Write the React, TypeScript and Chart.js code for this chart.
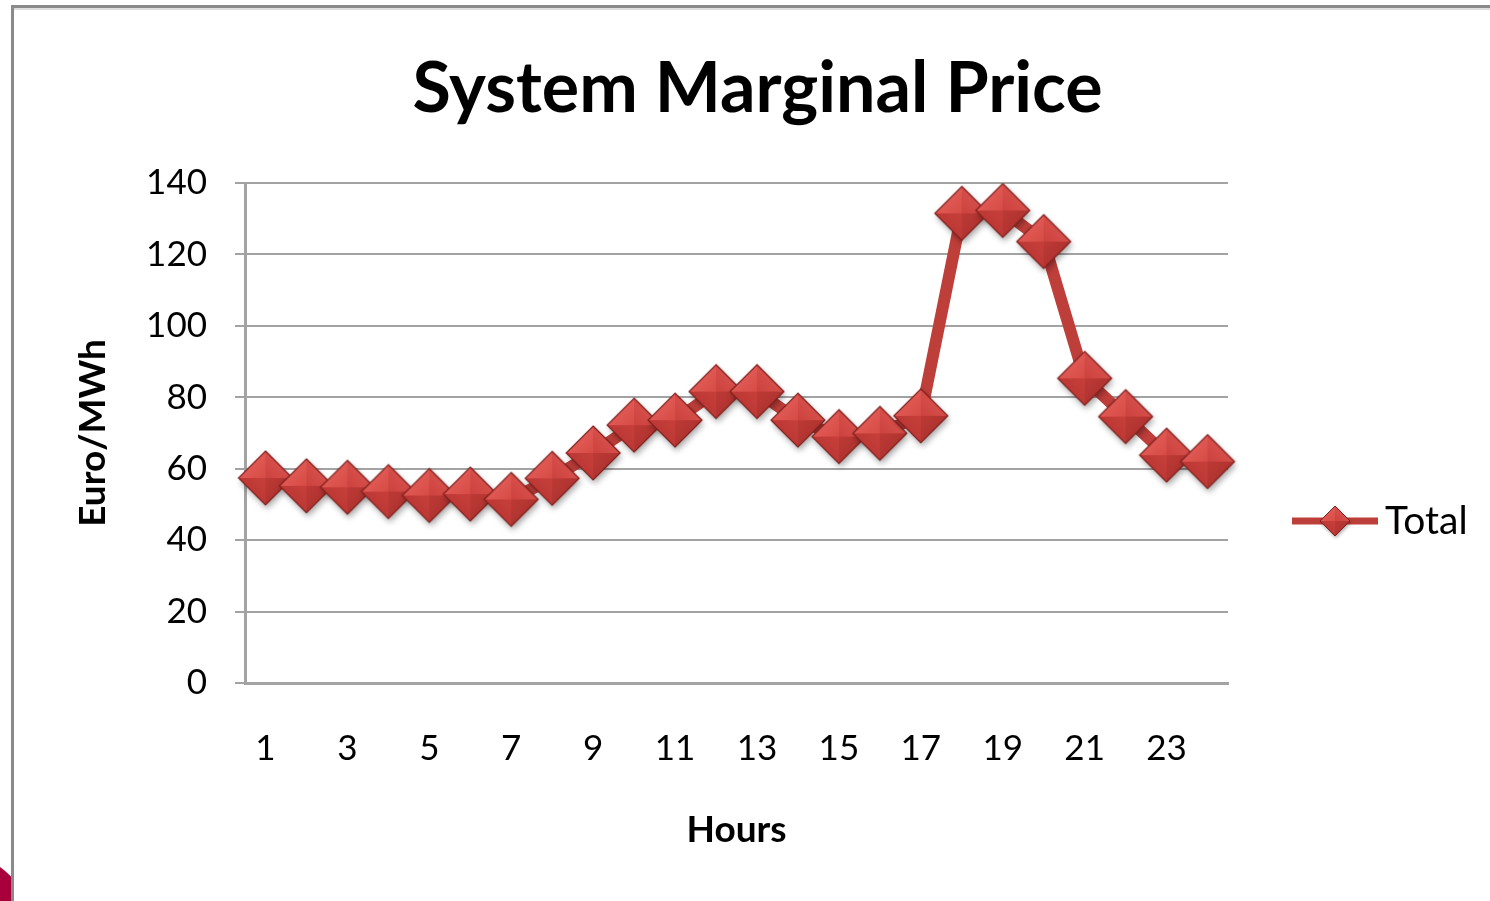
import React, { useEffect, useRef } from 'react';
import { Chart, registerables } from 'chart.js';

Chart.register(...registerables);

// ---- data ----
const hours: string[] = ['1', '2', '3', '4', '5', '6', '7', '8', '9', '10', '11', '12', '13', '14', '15', '16', '17', '18', '19', '20', '21', '22', '23', '24'];
const prices: number[] = [57.4, 55.2, 54.8, 53.6, 52.5, 52.9, 51.4, 57.3, 64.4, 72.2, 73.6, 81.6, 81.6, 73.6, 69.0, 69.9, 74.8, 131.5, 132.3, 123.6, 85.3, 74.6, 63.8, 62.0];
const yMin = 0;
const yMax = 140;
const yStep = 20;
const seriesName = 'Total';
const chartTitle = 'System Marginal Price';
const xAxisTitle = 'Hours';
const yAxisTitle = 'Euro/MWh';

// ---- style ----
const LINE_COLOR = 'rgb(190,62,58)';
const GRID_COLOR = '#a3a3a3';
const FONT = 'Lato';

function makeDiamond(r: number, outline: number): HTMLCanvasElement {
  const pad = Math.ceil(r * 0.35) + 4;
  const size = Math.ceil(2 * (r + pad));
  const cv = document.createElement('canvas');
  cv.width = size;
  cv.height = size;
  const ctx = cv.getContext('2d')!;
  const c = size / 2;
  const path = () => {
    ctx.beginPath();
    ctx.moveTo(c, c - r);
    ctx.lineTo(c + r, c);
    ctx.lineTo(c, c + r);
    ctx.lineTo(c - r, c);
    ctx.closePath();
  };
  ctx.save();
  ctx.shadowColor = 'rgba(0,0,0,0.35)';
  ctx.shadowBlur = r * 0.25;
  ctx.shadowOffsetX = r * 0.06;
  ctx.shadowOffsetY = r * 0.14;
  path();
  ctx.fillStyle = '#8e2623';
  ctx.fill();
  ctx.restore();
  const facet = (x1: number, y1: number, x2: number, y2: number, col: string | CanvasGradient) => {
    ctx.beginPath();
    ctx.moveTo(c, c);
    ctx.lineTo(x1, y1);
    ctx.lineTo(x2, y2);
    ctx.closePath();
    ctx.fillStyle = col;
    ctx.fill();
  };
  const gTL = ctx.createLinearGradient(c - r, c - r, c, c);
  gTL.addColorStop(0, '#ec6863');
  gTL.addColorStop(1, '#d64b46');
  const gTR = ctx.createLinearGradient(c + r, c - r, c, c);
  gTR.addColorStop(0, '#e05a55');
  gTR.addColorStop(1, '#cc423e');
  const gBR = ctx.createLinearGradient(c + r, c + r, c, c);
  gBR.addColorStop(0, '#a52d2a');
  gBR.addColorStop(1, '#bd3a36');
  const gBL = ctx.createLinearGradient(c - r, c + r, c, c);
  gBL.addColorStop(0, '#b3332f');
  gBL.addColorStop(1, '#c73f3b');
  facet(c - r, c, c, c - r, gTL);
  facet(c, c - r, c + r, c, gTR);
  facet(c + r, c, c, c + r, gBR);
  facet(c, c + r, c - r, c, gBL);
  path();
  ctx.strokeStyle = '#7d1f1c';
  ctx.lineWidth = outline;
  ctx.stroke();
  return cv;
}

export default function App() {
  const ref = useRef<HTMLCanvasElement>(null);

  useEffect(() => {
    const pointImg = makeDiamond(27, 1.2);
    const legendImg = makeDiamond(15, 1);

    const framePlugin = {
      id: 'frameAndLegend',
      beforeDraw(chart: any) {
        const ctx = chart.ctx as CanvasRenderingContext2D;
        const w = chart.width;
        const h = chart.height;
        ctx.save();
        ctx.fillStyle = '#ffffff';
        ctx.fillRect(0, 0, w, h);
        ctx.save();
        ctx.beginPath();
        ctx.rect(0, 0, 11, h);
        ctx.clip();
        ctx.fillStyle = '#a8003a';
        ctx.beginPath();
        ctx.arc(-45, 930, 77.4, 0, Math.PI * 2);
        ctx.fill();
        ctx.restore();
        ctx.fillStyle = '#dedede';
        ctx.fillRect(14, 8, w, 2);
        ctx.fillStyle = '#8a8a8a';
        ctx.fillRect(11, 5, w, 3);
        ctx.fillRect(11, 5, 3, h);
        ctx.restore();
      },
      afterDraw(chart: any) {
        const ctx = chart.ctx as CanvasRenderingContext2D;
        const area = chart.chartArea;
        const x0 = area.right + 64;
        const x1 = x0 + 86;
        const ly = 521;
        ctx.save();
        ctx.strokeStyle = LINE_COLOR;
        ctx.lineWidth = 7;
        ctx.beginPath();
        ctx.moveTo(x0, ly);
        ctx.lineTo(x1, ly);
        ctx.stroke();
        ctx.drawImage(legendImg, (x0 + x1) / 2 - legendImg.width / 2, ly - legendImg.height / 2);
        ctx.font = `39px ${FONT}`;
        ctx.fillStyle = '#000000';
        ctx.textBaseline = 'middle';
        ctx.textAlign = 'left';
        ctx.fillText(seriesName, x1 + 7, ly);
        ctx.restore();
      },
    };

    const chart = new Chart(ref.current!, {
      type: 'line',
      data: {
        labels: hours,
        datasets: [
          {
            label: seriesName,
            data: prices,
            borderColor: LINE_COLOR,
            backgroundColor: LINE_COLOR,
            borderWidth: 12,
            borderJoinStyle: 'round',
            borderCapStyle: 'round',
            tension: 0,
            pointStyle: pointImg as any,
            pointRadius: 27,
            fill: false,
          },
        ],
      },
      options: {
        animation: false,
        responsive: true,
        maintainAspectRatio: false,
        events: [],
        layout: { padding: { left: 25, right: 0, top: 0, bottom: 0 } },
        plugins: {
          legend: { display: false },
          tooltip: { enabled: false },
          title: {
            display: true,
            text: chartTitle,
            color: '#000000',
            font: { family: FONT, size: 70, weight: 'bold', lineHeight: 1.2 },
            padding: { top: 47, bottom: 52 },
          },
        },
        scales: {
          x: {
            type: 'category',
            offset: true,
            grid: { display: false, drawTicks: false },
            border: { display: true, color: GRID_COLOR, width: 3 },
            ticks: {
              autoSkip: false,
              maxRotation: 0,
              padding: 45,
              color: '#000000',
              font: { family: FONT, size: 35 },
              callback: (_v: any, i: number) => (i % 2 === 0 ? hours[i] : ''),
            },
            title: {
              display: true,
              text: xAxisTitle,
              color: '#000000',
              font: { family: FONT, size: 37, weight: 'bold', lineHeight: 1.2 },
              padding: { top: 0, bottom: 49 },
            },
            afterFit: (s: any) => {
              s.height = 218;
            },
          },
          y: {
            type: 'linear',
            position: 'left',
            min: yMin,
            max: yMax,
            grid: { color: GRID_COLOR, lineWidth: 2, drawTicks: true, tickLength: 10, tickColor: GRID_COLOR },
            border: { display: true, color: GRID_COLOR, width: 3 },
            ticks: {
              stepSize: yStep,
              padding: 28,
              color: '#000000',
              font: { family: FONT, size: 35 },
            },
            title: {
              display: true,
              text: yAxisTitle,
              color: '#000000',
              font: { family: FONT, size: 37, weight: 'bold', lineHeight: 1.2 },
              padding: { top: 46, bottom: 0 },
            },
            afterFit: (s: any) => {
              s.width = 220;
            },
          },
          legendSpace: {
            type: 'linear',
            position: 'right',
            display: true,
            min: 0,
            max: 1,
            grid: { display: false, drawTicks: false },
            border: { display: false },
            ticks: { display: false },
            afterFit: (s: any) => {
              s.width = 262;
            },
          },
        },
      } as any,
      plugins: [framePlugin],
    });
    return () => chart.destroy();
  }, []);

  return (
    <div style={{ position: 'absolute', left: 0, top: 0, width: 1490, height: 901 }}>
      <canvas ref={ref} />
    </div>
  );
}
